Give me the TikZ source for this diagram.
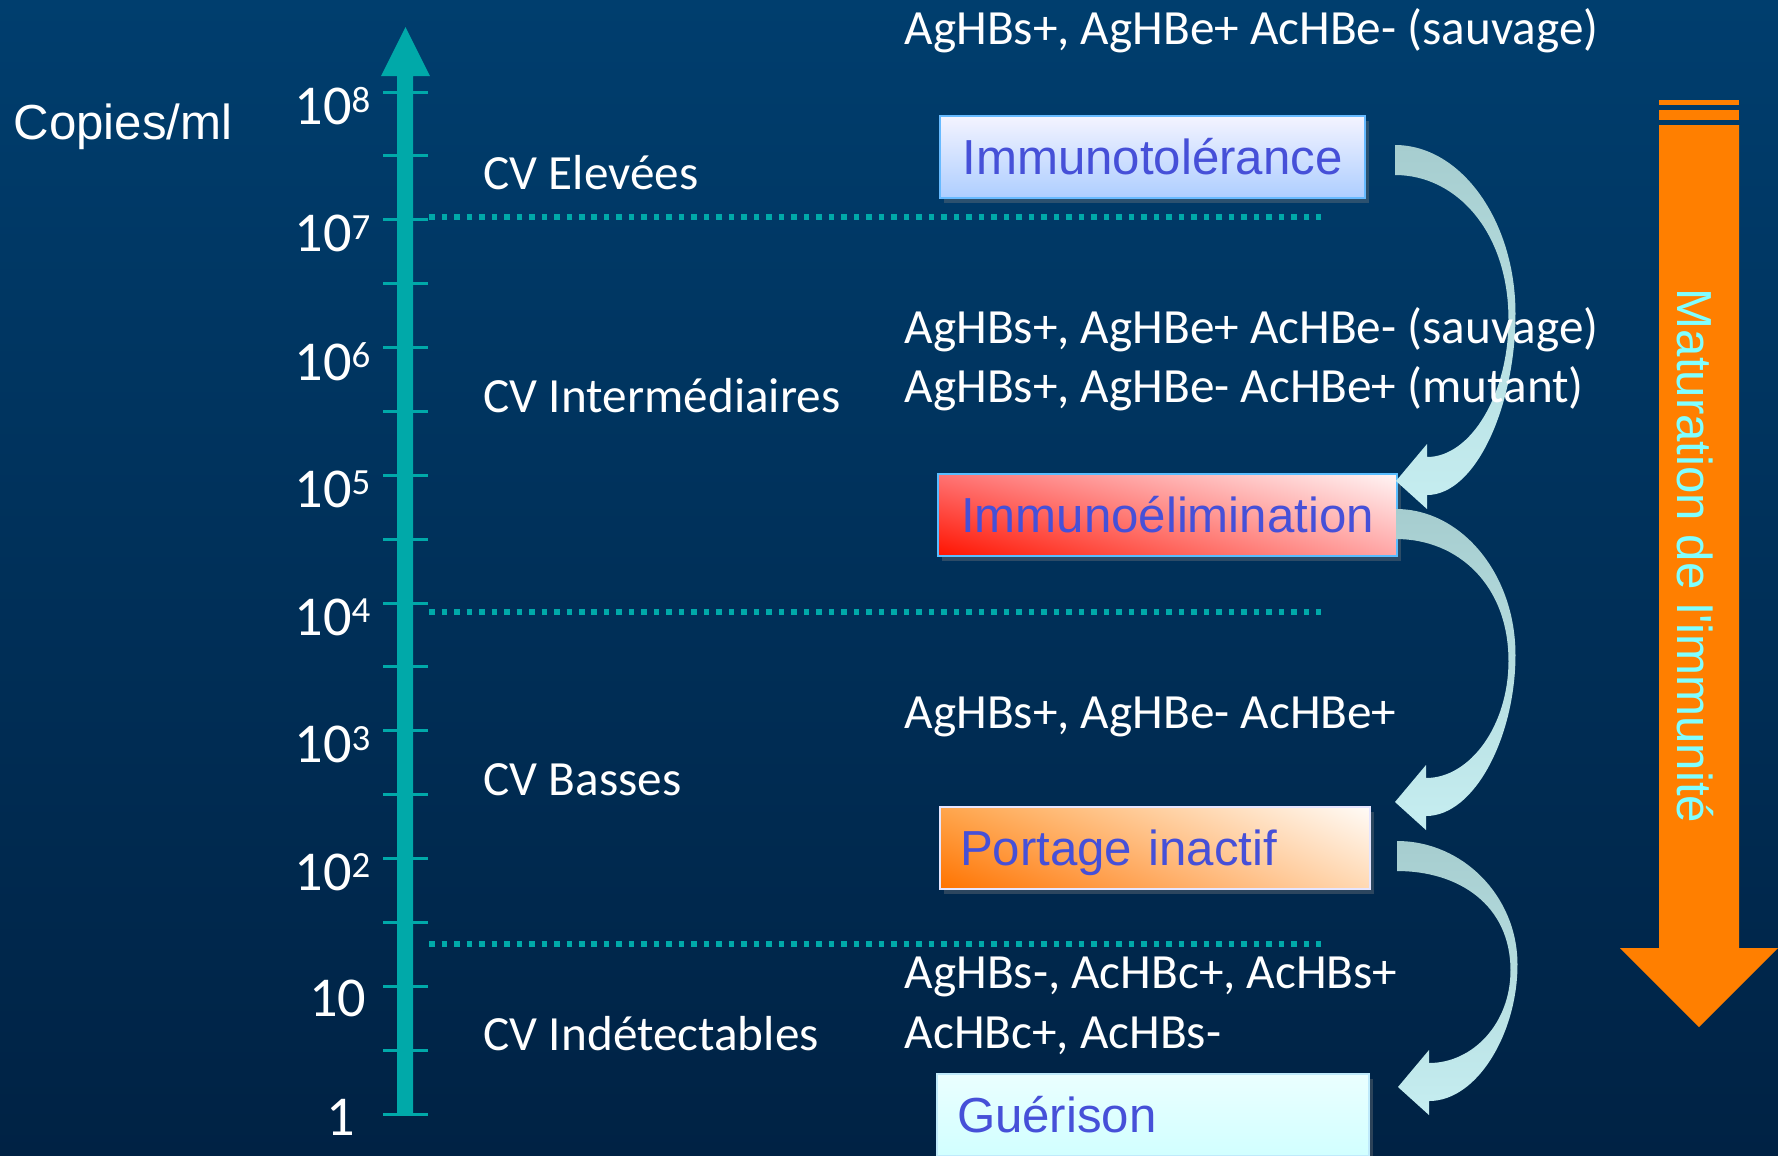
\documentclass[tikz,border=0pt]{standalone}
\usepackage{fontspec}
\setmainfont{Carlito}
\newfontfamily\arialfont{Liberation Sans}
\usetikzlibrary{calc,shadows,shadings}

\definecolor{bgtop}{HTML}{003E6E}
\definecolor{bgbot}{HTML}{002244}
\definecolor{axisc}{HTML}{00A9A9}
\definecolor{stagetext}{HTML}{4650D8}
\definecolor{matur}{HTML}{FF7F00}
\definecolor{maturtext}{HTML}{80FFFF}
\definecolor{swdark}{HTML}{A6CDCF}
\definecolor{swlight}{HTML}{C6EEF1}

\tikzset{
  stage/.style={draw, line width=0.2mm, anchor=north west, minimum height=8.2mm,
    inner xsep=2mm, inner ysep=0pt, text height=3.5mm, text depth=0pt,
    font=\arialfont\fontsize{14}{16}\selectfont, text=stagetext,
    drop shadow={opacity=0.35, shadow xshift=0.4mm, shadow yshift=-0.5mm}},
  cv/.style={anchor=base west, inner sep=0pt, text=white, font=\fontsize{14}{16}\selectfont},
  sero/.style={cv},
  ticklab/.style={anchor=east, inner sep=0pt, text=white, font=\fontsize{16}{18}\selectfont},
  level/.style={axisc, line width=0.55mm, dash pattern=on 0.55mm off 0.7mm},
}

% power of ten label
\newcommand{\tenpow}[1]{10\raisebox{3.6pt}{\fontsize{10.5}{10.5}\selectfont #1}}

% curved arrow from tail top #1 to head tip #2
\newcommand{\swoosh}[2]{%
  \shade[top color=swdark, bottom color=swlight]
    (#1) .. controls ($(#1)+(66,0)$) and ($(#1)!0.225!(#2)+(120,0)$)
      .. ($(#1)!0.5!(#2)+(120,0)$)
    .. controls ($(#1)!0.775!(#2)+(120,0)$) and ($(#2)+(80,14)$)
      .. ($(#2)+(31,14)$)
    -- ($(#2)+(31,28)$) -- (#2) -- ($(#2)+(31,-37)$) -- ($(#2)+(31,-24)$)
    .. controls ($(#2)+(75,-24)$) and ($(#1)!0.74!(#2)+(113,0)$)
      .. ($(#1)!0.5!(#2)+(113,6)$)
    .. controls ($(#1)!0.26!(#2)+(113,0)$) and ($(#1)+(62,30)$)
      .. ($(#1)+(0,30)$) -- cycle;}

\begin{document}
\begin{tikzpicture}[x=0.1mm,y=-0.1mm]
\clip (0,0) rectangle (1778,1155);
\shade[top color=bgtop, bottom color=bgbot] (0,0) rectangle (1778,1155);

% scale
\fill[axisc] (397,1115) -- (397,76) -- (381,76) -- (405.5,27) -- (430,76) -- (413,76) -- (413,1115) -- cycle;
\foreach \i in {0,...,16}
  \draw[axisc, line width=0.3mm] (383,{92+63.875*\i}) -- (428,{92+63.875*\i});
\foreach \k in {2,...,8}
  \node[ticklab] (t\k) at (371,{92+127.75*(8-\k)+14}) {\tenpow{\k}};
\node[ticklab] (t1) at (367,{92+127.75*7+12}) {10};
\node[ticklab] (t0) at (356,1117) {1};
\node[anchor=base west, inner sep=0pt, text=white, font=\arialfont\fontsize{14}{16}\selectfont] (unit) at (13,139) {Copies/ml};

\draw[level] (429,217) -- (1321,217);
\draw[level] (429,612) -- (1321,612);
\draw[level] (429,944) -- (1321,944);

\node[cv] (cvhigh) at (483,189) {CV Elevées};
\node[cv] (cvmid) at (483,412) {CV Intermédiaires};
\node[cv] (cvlow) at (483,795) {CV Basses};
\node[cv] (cvnone) at (483,1050) {CV Indétectables};

% phases
\node[stage, text width=38.5mm, align=center, top color=white!85!blue!30, bottom color=blue!25!cyan!20!white!85!blue, draw=blue!45!cyan!60!white] (tol) at (939,115) {Immunotolérance};
\node[stage, text width=41.9mm, align=center, lower left=red!85!orange, upper left=red!55!white, lower right=red!35!white, upper right=red!4!white, draw=blue!40!cyan!65!white] (elim) at (937,473) {Immunoélimination};
\node[stage, text width=39mm, align=left, lower left=orange!90!red, upper left=orange!70!white, lower right=orange!30!white, upper right=orange!3!white, draw=blue!10!white] (port) at (939,806) {Portage inactif};
\node[stage, text width=39.2mm, align=left, top color=cyan!8!white, bottom color=cyan!18!white, draw=cyan!25!white] (guer) at (936,1073) {Guérison};

% arrows between phases
\coordinate (col) at (1395,0);
\coordinate (a1) at ($(tol.east -| col)+(0,-12)$);
\coordinate (b1) at ($(elim.north -| col)+(1,8)$);
\coordinate (a2) at ($(elim.east -| col)+(1,-6)$);
\coordinate (b2) at ($(port.north -| col)+(0,-4)$);
\coordinate (a3) at ($(port.east -| col)+(2,-7)$);
\coordinate (b3) at ($(guer.north -| col)+(3,14)$);
\swoosh{a1}{b1}
\swoosh{a2}{b2}
\swoosh{a3}{b3}

\node[sero] (s0) at (904,44) {AgHBs+, AgHBe+ AcHBe- (sauvage)};
\node[sero] (s1) at (904,343) {AgHBs+, AgHBe+ AcHBe- (sauvage)};
\node[sero] (s2) at (904,402) {AgHBs+, AgHBe- AcHBe+ (mutant)};
\node[sero] (s3) at (904,728) {AgHBs+, AgHBe- AcHBe+};
\node[sero] (s4) at (904,988) {AgHBs-, AcHBc+, AcHBs+};
\node[sero] (s5) at (904,1048) {AcHBc+, AcHBs-};

% maturation
\fill[matur] (1659,100) rectangle (1739,105);
\fill[matur] (1659,110) rectangle (1739,120);
\fill[matur] (1659,125) -- (1739,125) -- (1739,948) -- (1778,948) -- (1699,1027) -- (1620,948) -- (1659,948) -- cycle;
\node[rotate=-90, inner sep=0pt, text=maturtext, font=\arialfont\fontsize{14}{16}\selectfont] (mat) at (1695,556) {Maturation de l'immunité};
\end{tikzpicture}
\end{document}
